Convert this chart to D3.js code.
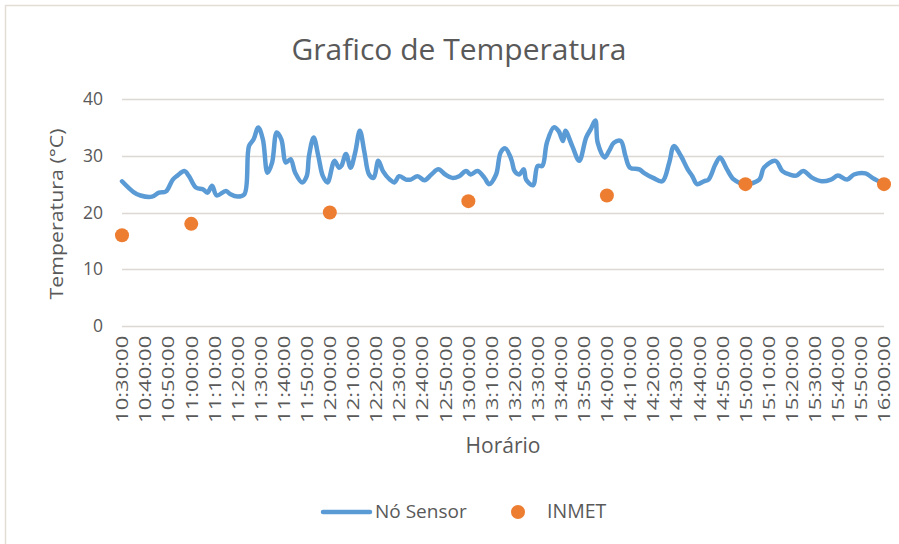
<!DOCTYPE html>
<html>
<head>
<meta charset="utf-8">
<script src="https://cdn.jsdelivr.net/npm/d3@7"></script>
<style>
	body { margin: 0; background: #fff; }
	svg { display: block; font-family: "Open Sans", sans-serif; }
</style>
</head>
<body>
<svg id="chart" width="899" height="544"></svg>
<script>
// Sensor readings (time, °C)
var sensorTimes = ["10:30","10:35","10:38","10:43","10:46","10:49","10:52","10:54","10:57","10:59",
	"11:02","11:05","11:07","11:09","11:11","11:15","11:17","11:20","11:23","11:25",
	"11:27","11:29","11:31","11:33","11:35","11:37","11:39","11:41","11:43","11:45",
	"11:48","11:50","11:51","11:53","11:55","11:57","11:59","12:02","12:04","12:05",
	"12:07","12:09","12:11","12:13","12:15","12:17","12:19","12:21","12:23","12:26",
	"12:28","12:30","12:33","12:35","12:38","12:41","12:44","12:47","12:50","12:53",
	"12:56","12:59","13:01","13:04","13:07","13:09","13:12","13:14","13:16","13:18",
	"13:19","13:20","13:22","13:24","13:25","13:28","13:30","13:32","13:34","13:37",
	"13:39","13:41","13:42","13:45","13:48","13:51","13:53","13:55","13:56","13:59",
	"14:01","14:03","14:06","14:08","14:10","14:14","14:16","14:20","14:24","14:27",
	"14:29","14:32","14:35","14:37","14:39","14:42","14:44","14:47","14:49","14:52",
	"14:55","15:00","15:06","15:08","15:13","15:16","15:19","15:22","15:25","15:29",
	"15:33","15:37","15:40","15:44","15:47","15:52","15:55","16:00"];
var sensorValues = [25.5,23.6,23.0,22.8,23.5,23.7,25.8,26.5,27.3,26.4,
	24.4,24.1,23.5,24.7,23.0,23.8,23.2,22.8,23.2,31.7,
	32.9,35.0,32.9,27.0,28.8,34.1,32.9,28.8,29.4,27.0,
	25.3,26.4,30.0,33.2,30.0,26.4,25.3,29.1,27.9,28.2,
	30.3,27.9,30.6,34.4,30.6,26.7,26.1,29.1,27.3,25.8,
	25.3,26.4,25.8,25.8,26.4,25.7,26.7,27.6,26.7,26.1,
	26.4,27.3,26.7,27.3,26.1,25.0,26.7,30.6,31.3,30.0,
	28.8,27.3,26.7,27.6,25.8,24.8,28.2,28.2,32.3,35.0,
	34.4,32.6,34.4,31.7,29.1,33.2,34.7,36.2,32.3,29.7,
	30.9,32.3,32.6,30.0,27.9,27.6,27.0,26.1,25.5,28.8,
	31.7,30.0,27.6,26.4,25.0,25.5,25.8,28.5,29.7,27.6,
	25.8,25.0,25.8,27.9,29.1,27.3,26.7,26.5,27.3,26.1,
	25.5,25.8,26.5,25.8,26.7,26.9,26.1,25.0];

// INMET station readings
var inmetTimes = ["10:30","11:00","12:00","13:00","14:00","15:00","16:00"];
var inmetValues = [16, 18, 20, 22, 23, 25, 25];

var yTicks = [0, 10, 20, 30, 40];

var chartTitle = "Grafico de Temperatura";
var xTitle = "Horário";
var yTitle = "Temperatura (°C)";
var legendNames = ["Nó Sensor", "INMET"];

// Chart
var svg = d3.select("#chart");
var parseTime = d3.timeParse("%H:%M");
var textColor = "#595959";
var lineColor = "#5b9bd5";
var dotColor = "#ed7d31";

var margin = {top: 99, left: 122};

// Outer frame
svg.append("rect")
	.attr("x", 5.5)
	.attr("y", 5.5)
	.attr("width", 920)
	.attr("height", 560)
	.attr("fill", "none")
	.attr("stroke", "#e3ddd6")
	.attr("stroke-width", 1.5);

var x = d3.scaleTime()
	.domain([parseTime("10:30"), parseTime("16:00")])
	.range([0, 762]);
var y = d3.scaleLinear()
	.domain([0, 40])
	.range([227, 0]);

var g = svg.append("g")
	.attr("transform", "translate(" + margin.left + "," + margin.top + ")");

// Grid lines
g.append("g")
	.selectAll("line")
	.data(yTicks)
	.enter()
	.append("line")
	.attr("x1", 0)
	.attr("x2", 762)
	.attr("y1", d => Math.round(y(d)) + 0.5)
	.attr("y2", d => Math.round(y(d)) + 0.5)
	.attr("stroke", "#dcd8d4")
	.attr("stroke-width", 1.3);

// Y axis
var yAxis = g.append("g")
	.call(d3.axisLeft(y).tickValues(yTicks).tickSize(0).tickPadding(19));
yAxis.select(".domain").remove();
yAxis.selectAll("text")
	.attr("fill", textColor)
	.style("font-size", "17.5px")
	.style("font-family", "Open Sans, sans-serif");

// X axis (labels stretched along their length like the source)
var xTicks = d3.timeMinute.every(10).range(parseTime("10:30"), d3.timeMinute.offset(parseTime("16:00"), 1));
var xAxis = g.append("g")
	.attr("transform", "translate(0," + y(0) + ")")
	.call(d3.axisBottom(x).tickValues(xTicks).tickSize(0).tickFormat(d3.timeFormat("%H:%M:%S")));
xAxis.select(".domain").remove();
xAxis.selectAll("text")
	.attr("fill", textColor)
	.style("font-size", "16px")
	.style("font-family", "Open Sans, sans-serif")
	.attr("text-anchor", "end")
	.attr("transform", "rotate(-90) scale(1.38,1)")
	.attr("x", -7)
	.attr("y", 0)
	.attr("dy", "0.36em");

// Sensor line
var sensor = sensorTimes.map((t, i) => ({ t: parseTime(t), v: sensorValues[i] }));
g.append("path")
	.datum(sensor)
	.attr("fill", "none")
	.attr("stroke", lineColor)
	.attr("stroke-width", 4.5)
	.attr("stroke-linejoin", "round")
	.attr("stroke-linecap", "round")
	.attr("d", d3.line()
		.x(d => x(d.t))
		.y(d => y(d.v))
		.curve(d3.curveCatmullRom.alpha(0.5)));

// INMET dots
g.selectAll(".dot")
	.data(inmetTimes)
	.enter()
	.append("circle")
	.attr("class", "dot")
	.attr("cx", d => x(parseTime(d)))
	.attr("cy", (d, i) => y(inmetValues[i]))
	.attr("r", 7)
	.attr("fill", dotColor);

// Title
svg.append("text")
	.attr("x", 459)
	.attr("y", 60)
	.attr("text-anchor", "middle")
	.attr("fill", textColor)
	.style("font-size", "30px")
	.text(chartTitle);

// Axis titles
svg.append("text")
	.attr("x", 503)
	.attr("y", 453)
	.attr("text-anchor", "middle")
	.attr("fill", textColor)
	.style("font-size", "21px")
	.text(xTitle);

svg.append("text")
	.attr("transform", "translate(63,214) rotate(-90) scale(1.22,1)")
	.attr("text-anchor", "middle")
	.attr("fill", textColor)
	.style("font-size", "17.5px")
	.text(yTitle);

// Legend
var legend = svg.append("g");
legend.append("line")
	.attr("x1", 323).attr("x2", 370)
	.attr("y1", 512).attr("y2", 512)
	.attr("stroke", lineColor)
	.attr("stroke-width", 4.5)
	.attr("stroke-linecap", "round");
legend.append("text")
	.attr("x", 375).attr("y", 518)
	.attr("fill", textColor)
	.style("font-size", "19px")
	.text(legendNames[0]);
legend.append("circle")
	.attr("cx", 518).attr("cy", 512)
	.attr("r", 7)
	.attr("fill", dotColor);
legend.append("text")
	.attr("x", 547).attr("y", 518)
	.attr("fill", textColor)
	.style("font-size", "19.5px")
	.text(legendNames[1]);
</script>
</body>
</html>
